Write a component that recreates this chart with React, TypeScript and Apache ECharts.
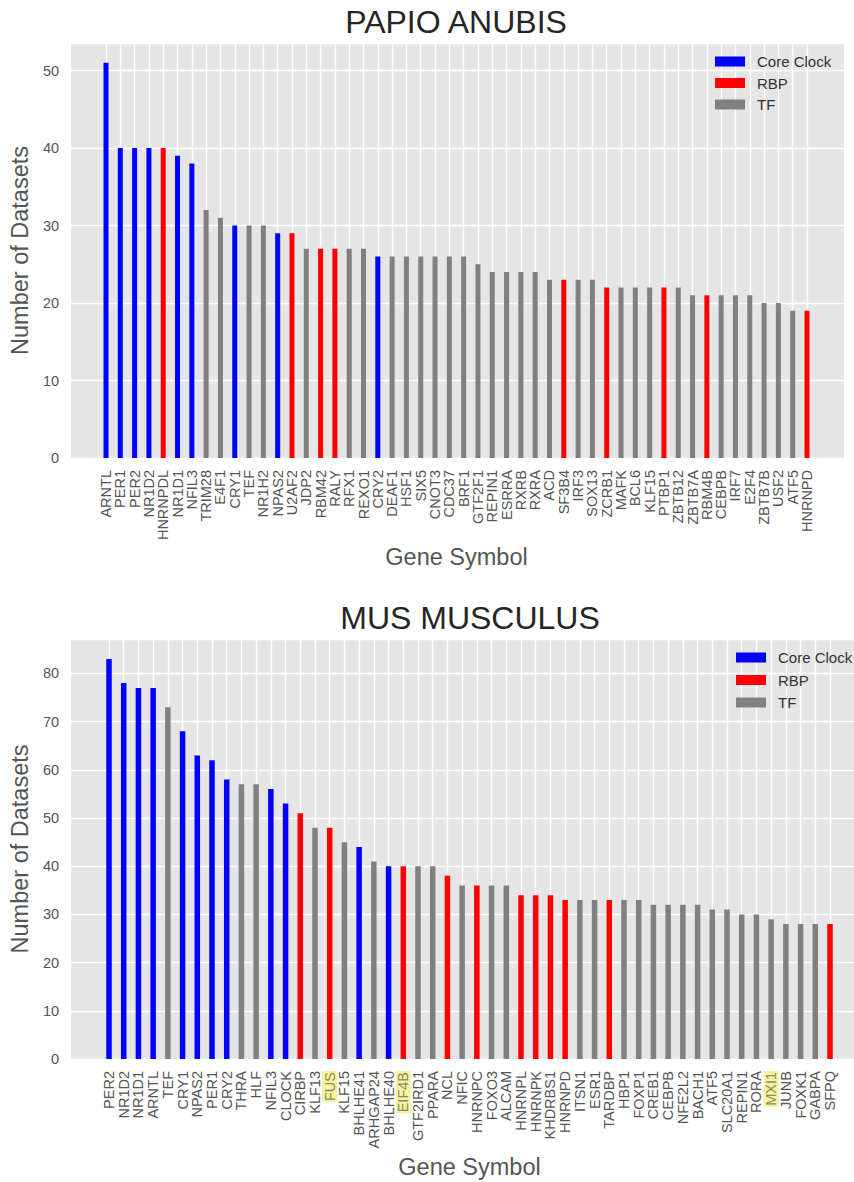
import React, { useEffect, useRef } from "react";
import * as echarts from "echarts";

// ---------- DATA ----------
const papioGenes = [
  "ARNTL", "PER1", "PER2", "NR1D2", "HNRNPDL", "NR1D1", "NFIL3", "TRIM28", "E4F1", "CRY1",
  "TEF", "NR1H2", "NPAS2", "U2AF2", "JDP2", "RBM42", "RALY", "RFX1", "REXO1", "CRY2",
  "DEAF1", "HSF1", "SIX5", "CNOT3", "CDC37", "BRF1", "GTF2F1", "REPIN1", "ESRRA", "RXRB",
  "RXRA", "ACD", "SF3B4", "IRF3", "SOX13", "ZCRB1", "MAFK", "BCL6", "KLF15", "PTBP1",
  "ZBTB12", "ZBTB7A", "RBM4B", "CEBPB", "IRF7", "E2F4", "ZBTB7B", "USF2", "ATF5", "HNRNPD",
];
const papioValues = [
  51, 40, 40, 40, 40, 39, 38, 32, 31, 30,
  30, 30, 29, 29, 27, 27, 27, 27, 27, 26,
  26, 26, 26, 26, 26, 26, 25, 24, 24, 24,
  24, 23, 23, 23, 23, 22, 22, 22, 22, 22,
  22, 21, 21, 21, 21, 21, 20, 20, 19, 19,
];
const papioTypes = [
  "Core Clock", "Core Clock", "Core Clock", "Core Clock", "RBP", "Core Clock", "Core Clock", "TF", "TF", "Core Clock",
  "TF", "TF", "Core Clock", "RBP", "TF", "RBP", "RBP", "TF", "TF", "Core Clock",
  "TF", "TF", "TF", "TF", "TF", "TF", "TF", "TF", "TF", "TF",
  "TF", "TF", "RBP", "TF", "TF", "RBP", "TF", "TF", "TF", "RBP",
  "TF", "TF", "RBP", "TF", "TF", "TF", "TF", "TF", "TF", "RBP",
];

const musGenes = [
  "PER2", "NR1D2", "NR1D1", "ARNTL", "TEF", "CRY1", "NPAS2", "PER1", "CRY2", "THRA",
  "HLF", "NFIL3", "CLOCK", "CIRBP", "KLF13", "FUS", "KLF15", "BHLHE41", "ARHGAP24", "BHLHE40",
  "EIF4B", "GTF2IRD1", "PPARA", "NCL", "NFIC", "HNRNPC", "FOXO3", "ALCAM", "HNRNPL", "HNRNPK",
  "KHDRBS1", "HNRNPD", "ITSN1", "ESR1", "TARDBP", "HBP1", "FOXP1", "CREB1", "CEBPB", "NFE2L2",
  "BACH1", "ATF5", "SLC20A1", "REPIN1", "RORA", "MXI1", "JUNB", "FOXK1", "GABPA", "SFPQ",
];
const musValues = [
  83, 78, 77, 77, 73, 68, 63, 62, 58, 57,
  57, 56, 53, 51, 48, 48, 45, 44, 41, 40,
  40, 40, 40, 38, 36, 36, 36, 36, 34, 34,
  34, 33, 33, 33, 33, 33, 33, 32, 32, 32,
  32, 31, 31, 30, 30, 29, 28, 28, 28, 28,
];
const musTypes = [
  "Core Clock", "Core Clock", "Core Clock", "Core Clock", "TF", "Core Clock", "Core Clock", "Core Clock", "Core Clock", "TF",
  "TF", "Core Clock", "Core Clock", "RBP", "TF", "RBP", "TF", "Core Clock", "TF", "Core Clock",
  "RBP", "TF", "TF", "RBP", "TF", "RBP", "TF", "TF", "RBP", "RBP",
  "RBP", "RBP", "TF", "TF", "RBP", "TF", "TF", "TF", "TF", "TF",
  "TF", "TF", "TF", "TF", "TF", "TF", "TF", "TF", "TF", "RBP",
];
const musHighlighted = ["FUS", "EIF4B", "MXI1"];

const groupNames = ["Core Clock", "RBP", "TF"];
const groupColors = ["#0000FF", "#FF0000", "#808080"];

const chartTitles = ["PAPIO ANUBIS", "MUS MUSCULUS"];
const yAxisTitle = "Number of Datasets";
const xAxisTitle = "Gene Symbol";

// ---------- STYLE ----------
const FONT = "'Liberation Sans', Arial, Helvetica, sans-serif";
const BG = "#E5E5E5";
const TXT = "#555555";

export default function App() {
  const ref = useRef<HTMLDivElement>(null);

  useEffect(() => {
    if (!ref.current) return;
    const chart = echarts.init(ref.current, undefined, { renderer: "svg" });

    const makeSeries = (values: number[], types: string[], axisIdx: number, barWidth: number) =>
      groupNames.map((g, gi) => ({
        name: g,
        type: "bar",
        xAxisIndex: axisIdx,
        yAxisIndex: axisIdx,
        barWidth,
        barGap: "-100%",
        itemStyle: { color: groupColors[gi] },
        data: values.map((v, i) => (types[i] === g ? v : "-")),
      }));

    const valueAxisCommon = (gridIndex: number, max: number) => ({
      gridIndex,
      type: "value",
      min: 0,
      max,
      interval: 10,
      axisLine: { show: false },
      axisTick: { show: false },
      axisLabel: {
        fontSize: 14.5,
        color: TXT,
        fontFamily: FONT,
        margin: 12,
        formatter: (v: number) => (v % 10 === 0 ? String(v) : ""),
      },
      splitLine: { show: true, lineStyle: { color: "#FFFFFF", width: 1.4 } },
      name: yAxisTitle,
      nameLocation: "middle",
      nameGap: 31,
      nameTextStyle: { fontSize: 23.5, color: TXT, fontFamily: FONT },
    });

    const hiddenY = (gridIndex: number, max: number) => ({
      gridIndex,
      type: "value",
      min: 0,
      max,
      show: false,
      splitLine: { show: false },
    });

    const catAxis = (gridIndex: number, genes: string[], highlighted: string[], nameGap: number) => ({
      gridIndex,
      type: "category",
      data: genes,
      boundaryGap: false,
      axisLine: { show: false },
      axisTick: { show: false },
      axisLabel: {
        interval: 0,
        rotate: 90,
        fontSize: 14.5,
        color: TXT,
        fontFamily: FONT,
        margin: 12,
        formatter: (v: string) => (highlighted.includes(v) ? `{hl|${v}}` : v),
        rich: {
          hl: {
            fontSize: 14.5,
            fontFamily: FONT,
            color: "#8a8a6a",
            backgroundColor: "#F7F39A",
            padding: [0, 1, 0, 1],
          },
        },
      },
      splitLine: { show: true, interval: 0, lineStyle: { color: "#FFFFFF", width: 1.4 } },
      name: xAxisTitle,
      nameLocation: "middle",
      nameGap,
      nameTextStyle: { fontSize: 23.5, color: TXT, fontFamily: FONT },
    });

    const option: any = {
      animation: false,
      title: [
        {
          text: chartTitles[0],
          left: 456,
          top: 6,
          textAlign: "center",
          padding: 0,
          textStyle: { fontSize: 32, fontWeight: "normal", color: "#262626", fontFamily: FONT },
        },
        {
          text: chartTitles[1],
          left: 470,
          top: 602,
          textAlign: "center",
          padding: 0,
          textStyle: { fontSize: 32, fontWeight: "normal", color: "#262626", fontFamily: FONT },
        },
      ],
      legend: [
        {
          data: groupNames,
          orient: "vertical",
          left: 715,
          top: 54,
          padding: 0,
          itemWidth: 30,
          itemHeight: 10,
          itemGap: 6.5,
          icon: "rect",
          textStyle: { fontSize: 15, color: "#333", fontFamily: FONT, padding: [0, 0, 0, 7] },
        },
        {
          data: groupNames,
          orient: "vertical",
          left: 736,
          top: 650,
          padding: 0,
          itemWidth: 30,
          itemHeight: 10,
          itemGap: 7.5,
          icon: "rect",
          textStyle: { fontSize: 15, color: "#333", fontFamily: FONT, padding: [0, 0, 0, 7] },
        },
      ],
      grid: [
        { left: 69, width: 775, top: 43, height: 415, show: true, backgroundColor: BG, borderWidth: 0 },
        { left: 106, width: 701, top: 43, height: 415, show: false },
        { left: 71, width: 798, top: 639, height: 420, show: true, backgroundColor: BG, borderWidth: 0 },
        { left: 109, width: 721, top: 639, height: 420, show: false },
      ],
      xAxis: [
        { gridIndex: 0, type: "value", min: 0, max: 1, show: false },
        catAxis(1, papioGenes, [], 87),
        { gridIndex: 2, type: "value", min: 0, max: 1, show: false },
        catAxis(3, musGenes, musHighlighted, 96),
      ],
      yAxis: [
        valueAxisCommon(0, 53.55),
        hiddenY(1, 53.55),
        valueAxisCommon(2, 87.15),
        hiddenY(3, 87.15),
      ],
      series: [
        ...makeSeries(papioValues, papioTypes, 1, 5),
        ...makeSeries(musValues, musTypes, 3, 5.5),
      ],
    };

    chart.setOption(option);
    return () => chart.dispose();
  }, []);

  return (
    <div
      ref={ref}
      style={{ position: "absolute", left: 0, top: 0, width: 854, height: 1182, background: "#fff" }}
    />
  );
}
